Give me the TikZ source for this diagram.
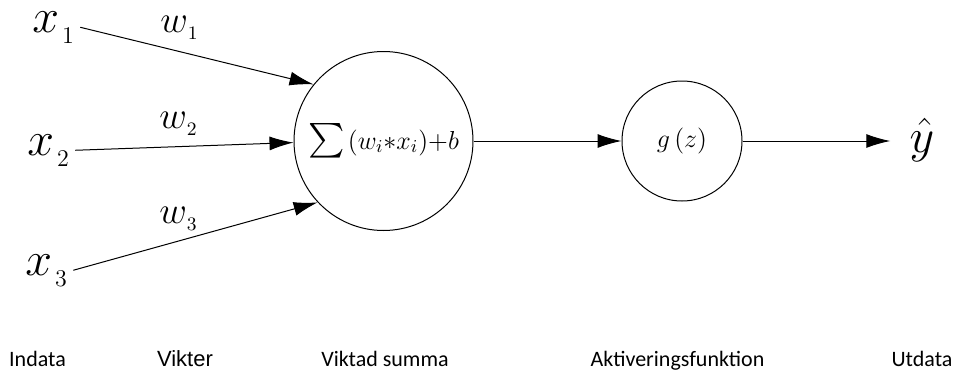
\RequirePackage{fix-cm}
\documentclass[tikz,border=0pt]{standalone}
\usepackage{exscale}
\usepackage{fontspec}
\newfontfamily\lblfont{Carlito}
\newfontfamily\lblfontb{Liberation Sans}
\usetikzlibrary{arrows.meta}
\newcommand{\lsub}[1]{\lower2pt\hbox{$\scriptscriptstyle #1$}}
\begin{document}
\begin{tikzpicture}[x=0.5pt,y=-0.5pt,
  arr/.style={-{Latex[length=12pt,width=7pt]}, line width=0.5pt},
  var/.style={inner xsep=2.5pt, inner ysep=0pt, anchor=base west, font=\fontsize{24}{28}\selectfont},
  wt/.style={inner sep=0pt, anchor=base west, font=\fontsize{19}{22}\selectfont},
  lbl/.style={font=\lblfont\fontsize{11}{13}\selectfont, anchor=base, inner sep=0pt},
  circ/.style={circle, draw, line width=0.5pt, inner sep=0pt}]
\useasboundingbox (0,0) rectangle (959,370);
% inputs
\node[var] (x1) at (27,32) {$x_{\kern1.5pt\lsub{1}}$};
\node[var] (x2) at (22,155) {$x_{\kern1.5pt\lsub{2}}$};
\node[var] (x3) at (20,275) {$x_{\kern1.5pt\lsub{3}}$};
% weights
\node[wt] (w1) at (160,32) {$w_{\kern0.5pt\lower1pt\hbox{$\scriptscriptstyle 1$}}$};
\node[wt] (w2) at (159,128) {$w_{\kern0.5pt\lower1pt\hbox{$\scriptscriptstyle 2$}}$};
\node[wt] (w3) at (159,223) {$w_{\kern0.5pt\lower1pt\hbox{$\scriptscriptstyle 3$}}$};
% neurons
\node[circ, minimum size=89.5pt] (sum) at (383.5,141)
  {{\fontsize{16}{18}\selectfont$\sum$}\,{\fontsize{13}{15}\selectfont$(w_{i}{*}x_{i}){+}b$}};
\node[circ, minimum size=60pt] (g) at (682,141)
  {\fontsize{13}{15}\selectfont$g\,(z)$};
\node[var, anchor=base] (yh) at (922,152) {$\hat{y}$};
% connectors
\draw[arr] (x1.east) -- (sum.141);
\draw[arr] (x2.east) -- (sum.181);
\draw[arr] (x3.east) -- (sum.223);
\draw[arr] (sum.east) -- (g.west);
\draw[arr, shorten >=7pt] (g.east) -- (yh.west |- g.east);
% labels
\node[lbl] (l1) at (37.5,366) {Indata};
\node[lbl, font=\lblfontb\fontsize{11}{13}\selectfont] (l2) at (185,366) {Vikter};
\node[lbl] (l3) at (385,366) {Viktad summa};
\node[lbl] (l4) at (677.5,366) {Aktiveringsfunktion};
\node[lbl] (l5) at (922,366) {Utdata};
\end{tikzpicture}
\end{document}
